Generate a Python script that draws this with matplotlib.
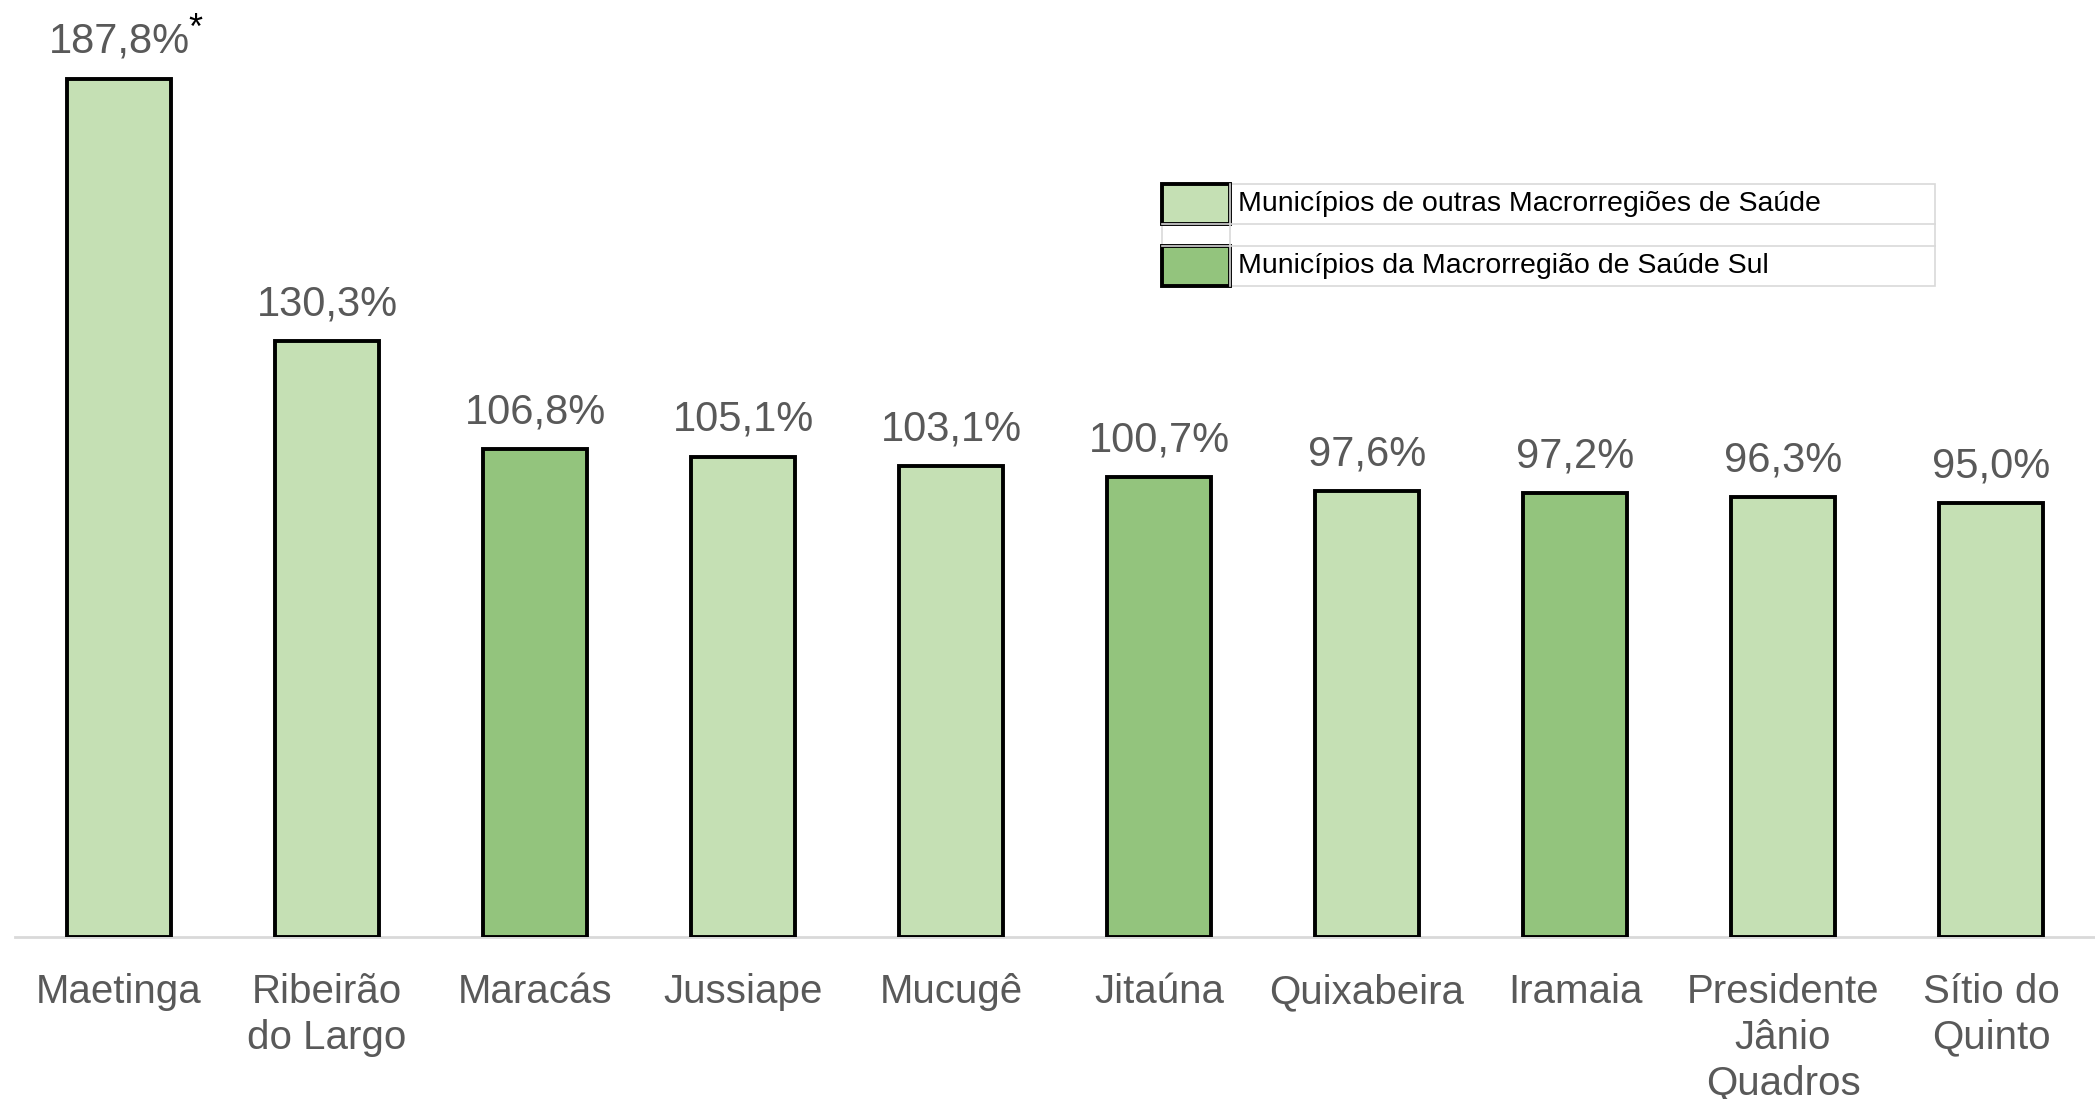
import matplotlib.pyplot as plt
from matplotlib.patches import Rectangle
from matplotlib.lines import Line2D

# Data
municipios = ["Maetinga", "Ribeirão\ndo Largo", "Maracás", "Jussiape", "Mucugê",
              "Jitaúna", "Quixabeira", "Iramaia", "Presidente\nJânio\nQuadros", "Sítio do\nQuinto"]
valores = [187.8, 130.3, 106.8, 105.1, 103.1, 100.7, 97.6, 97.2, 96.3, 95.0]
macro_sul = [False, False, True, False, False, True, False, True, False, False]
legenda = ["Municípios de outras Macrorregiões de Saúde",
           "Municípios da Macrorregião de Saúde Sul"]

cor_outras = "#C5E0B4"
cor_sul = "#93C47D"
cinza_txt = "#595959"

W, H = 2095, 1099
fig = plt.figure(figsize=(W / 100, H / 100), dpi=100)
ax = fig.add_axes([15 / W, 1 - 937 / H, 1 - 15 / W, 937 / H])

cores = [cor_sul if s else cor_outras for s in macro_sul]
x = range(len(municipios))
bars = ax.bar(x, valores, width=0.5, color=cores, edgecolor="black", linewidth=2.8, zorder=3)

ax.set_xlim(-0.5, len(municipios) - 0.5)
ax.set_ylim(0, 205)

for b, v in zip(bars, valores):
    ax.annotate(f"{v:.1f}%".replace(".", ","), (b.get_x() + b.get_width() / 2, v),
                xytext=(0, 12), textcoords="offset points", ha="center", va="bottom",
                fontsize=30, color=cinza_txt, family="Liberation Sans")

# asterisco no primeiro valor
ax.annotate("*", (bars[0].get_x() + bars[0].get_width() / 2, valores[0]),
            xytext=(50, 48), textcoords="offset points", ha="left", va="top",
            fontsize=26, color="black", family="Liberation Sans")

ax.set_xticks(list(x))
ax.set_xticklabels(municipios, fontsize=29, color=cinza_txt, family="Liberation Sans",
                   linespacing=1.25)
ax.tick_params(axis="x", length=0, pad=26)
ax.set_yticks([])
for s in ["top", "right", "left"]:
    ax.spines[s].set_visible(False)
ax.spines["bottom"].set_color("#D9D9D9")
ax.spines["bottom"].set_linewidth(2)


# Legenda em forma de tabela (coordenadas em pixels da figura)
def fx(px):
    return px / W


def fy(py):
    return 1 - py / H


gris = "#D9D9D9"
x0, x1, xt = 1162, 1935, 1230
linhas = [184, 224, 246, 286]
fig.add_artist(Rectangle((fx(x0), fy(linhas[-1])), fx(x1) - fx(x0), fy(linhas[0]) - fy(linhas[-1]),
                         transform=fig.transFigure, facecolor="white", edgecolor=gris, linewidth=1.2))
for ly in linhas[1:3]:
    fig.add_artist(Line2D([fx(x0), fx(x1)], [fy(ly), fy(ly)], transform=fig.transFigure,
                          color=gris, linewidth=1.2))
fig.add_artist(Line2D([fx(xt), fx(xt)], [fy(linhas[0]), fy(linhas[-1])], transform=fig.transFigure,
                      color=gris, linewidth=1.2))
for (ya, yb), cor, txt in zip([(184, 224), (246, 286)], [cor_outras, cor_sul], legenda):
    fig.add_artist(Rectangle((fx(x0), fy(yb)), fx(xt) - fx(x0), fy(ya) - fy(yb),
                             transform=fig.transFigure, facecolor=cor, edgecolor="black",
                             linewidth=2.8))
    fig.text(fx(xt + 8), fy((ya + yb) / 2), txt, fontsize=20.5, color="black", va="center",
             ha="left", family="Liberation Sans")

fig.savefig("out.png", dpi=100)
